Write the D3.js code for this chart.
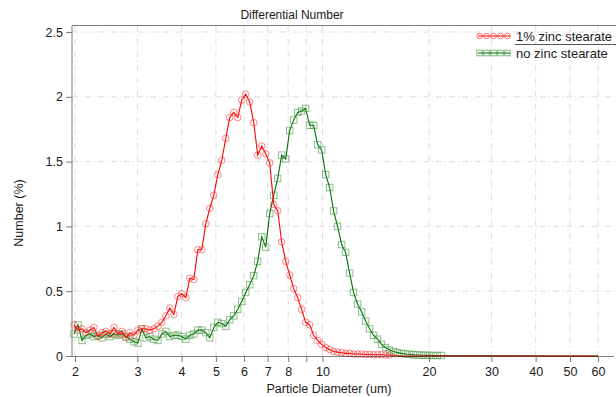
<!DOCTYPE html>
<html>
<head>
<meta charset="utf-8">
<script src="https://cdn.jsdelivr.net/npm/d3@7"></script>
<style>
  body { margin: 0; background: #fff; }
  svg text { font-family: Arial, "Liberation Sans", sans-serif; fill: #1a1a1a; }
</style>
</head>
<body>
<div id="chart"></div>
<script>
// particle diameter bins (um), shared by both samples
var diameters = [1.987, 2.039, 2.093, 2.148, 2.205, 2.263, 2.322, 2.383, 2.446, 2.510,
  2.576, 2.644, 2.714, 2.785, 2.859, 2.934, 3.011, 3.090, 3.171, 3.255,
  3.341, 3.429, 3.519, 3.611, 3.706, 3.804, 3.904, 4.007, 4.112, 4.220,
  4.331, 4.445, 4.562, 4.682, 4.806, 4.932, 5.062, 5.195, 5.332, 5.472,
  5.616, 5.764, 5.916, 6.071, 6.231, 6.395, 6.563, 6.736, 6.913, 7.095,
  7.282, 7.474, 7.670, 7.872, 8.079, 8.292, 8.510, 8.734, 8.964, 9.200,
  9.442, 9.691, 9.945, 10.21, 10.48, 10.75, 11.03, 11.33, 11.62, 11.93,
  12.24, 12.57, 12.90, 13.24, 13.58, 13.94, 14.31, 14.68, 15.07, 15.47,
  15.87, 16.29, 16.72, 17.16, 17.61, 18.07, 18.55, 19.04, 19.54, 20.05,
  20.58, 21.12, 21.68, 60];

// Number (%) - 1% zinc stearate
var zincValues = [0.24, 0.20, 0.21, 0.18, 0.20, 0.22, 0.15, 0.18, 0.19, 0.17,
  0.22, 0.17, 0.19, 0.14, 0.18, 0.16, 0.20, 0.21, 0.21, 0.20,
  0.21, 0.23, 0.26, 0.31, 0.37, 0.32, 0.46, 0.48, 0.45, 0.60,
  0.59, 0.82, 0.82, 1.02, 1.14, 1.24, 1.40, 1.51, 1.68, 1.84,
  1.88, 1.84, 1.975, 2.02, 1.96, 1.80, 1.55, 1.62, 1.56, 1.49,
  1.17, 1.12, 0.88, 0.73, 0.625, 0.52, 0.45, 0.36, 0.26, 0.24,
  0.16, 0.12, 0.09, 0.065, 0.05, 0.035, 0.03, 0.025, 0.02, 0.02,
  0.015, 0.015, 0.015, 0.012, 0.012, 0.01, 0.01, 0.01, 0.008, 0.008,
  0, 0, 0, 0, 0, 0, 0, 0, 0, 0,
  0, 0, 0, 0];

// Number (%) - no zinc stearate
var plainValues = [0.17, 0.24, 0.12, 0.16, 0.17, 0.15, 0.16, 0.14, 0.17, 0.15,
  0.17, 0.16, 0.17, 0.15, 0.13, 0.11, 0.10, 0.21, 0.14, 0.15,
  0.13, 0.12, 0.17, 0.19, 0.15, 0.16, 0.16, 0.15, 0.13, 0.16,
  0.17, 0.20, 0.20, 0.18, 0.14, 0.22, 0.26, 0.25, 0.23, 0.28,
  0.31, 0.36, 0.42, 0.49, 0.55, 0.62, 0.73, 0.92, 0.84, 1.10,
  1.24, 1.37, 1.55, 1.52, 1.74, 1.82, 1.88, 1.89, 1.91, 1.78,
  1.78, 1.63, 1.59, 1.40, 1.30, 1.12, 1.00, 0.86, 0.80, 0.64,
  0.49, 0.40, 0.34, 0.27, 0.21, 0.16, 0.13, 0.09, 0.065, 0.046,
  0.035, 0.026, 0.02, 0.016, 0.013, 0.01, 0.008, 0.006, 0.006, 0.005,
  0.004, 0.004, 0.004, 0];

var xTicks = [2, 3, 4, 5, 6, 7, 8, 9, 10, 20, 30, 40, 50, 60];
var yTicks = [0, 0.5, 1, 1.5, 2, 2.5];
var seriesNames = ["1% zinc stearate", "no zinc stearate"];

var width = 616, height = 397;
var svg = d3.select("#chart").append("svg")
    .attr("width", width)
    .attr("height", height);

var x = d3.scaleLog().domain([2, 60]).range([75, 598]);
var y = d3.scaleLinear().domain([0, 2.5]).range([356, 32]);
var frameLeft = 72, frameRight = 616, frameTop = 25.5, frameBottom = y(0);

// grid
var gridStyle = "6,3,1,3";
svg.append("g").selectAll("line.vg")
    .data(xTicks)
    .enter().append("line")
    .attr("x1", function(d){ return x(d); })
    .attr("x2", function(d){ return x(d); })
    .attr("y1", frameTop)
    .attr("y2", frameBottom)
    .attr("stroke", "#dcdcdc")
    .attr("stroke-dasharray", gridStyle);
svg.append("g").selectAll("line.hg")
    .data(yTicks.slice(1))
    .enter().append("line")
    .attr("x1", frameLeft)
    .attr("x2", frameRight)
    .attr("y1", function(d){ return y(d); })
    .attr("y2", function(d){ return y(d); })
    .attr("stroke", "#dcdcdc")
    .attr("stroke-dasharray", gridStyle);

// series
function makeSeries(values){
    return diameters.map(function(d, i){ return {d: d, v: values[i]}; });
}
var zinc = makeSeries(zincValues), plain = makeSeries(plainValues);
var line = d3.line()
    .x(function(p){ return x(p.d); })
    .y(function(p){ return y(p.v); });

// no zinc stearate (green squares)
svg.append("path")
    .datum(plain)
    .attr("d", line)
    .attr("fill", "none")
    .attr("stroke", "#007000")
    .attr("stroke-width", 1.1);
svg.append("g").selectAll("rect")
    .data(plain.filter(function(p){ return p.v > 0; }))
    .enter().append("rect")
    .attr("x", function(p){ return x(p.d) - 3.2; })
    .attr("y", function(p){ return y(p.v) - 3.2; })
    .attr("width", 6.4)
    .attr("height", 6.4)
    .attr("fill", "none")
    .attr("stroke", "#2e8b2e")
    .attr("stroke-opacity", 0.55);

// 1% zinc stearate (red circles)
svg.append("path")
    .datum(zinc)
    .attr("d", line)
    .attr("fill", "none")
    .attr("stroke", "#ff0000")
    .attr("stroke-width", 1.1);
svg.append("g").selectAll("circle")
    .data(zinc.filter(function(p){ return p.v > 0; }))
    .enter().append("circle")
    .attr("cx", function(p){ return x(p.d); })
    .attr("cy", function(p){ return y(p.v); })
    .attr("r", 3.3)
    .attr("fill", "none")
    .attr("stroke", "#ff2020")
    .attr("stroke-opacity", 0.55);

// frame
svg.append("line")
    .attr("x1", frameLeft).attr("x2", frameRight)
    .attr("y1", frameTop).attr("y2", frameTop)
    .attr("stroke", "#7a7a7a");
svg.append("line")
    .attr("x1", frameLeft).attr("x2", frameLeft)
    .attr("y1", frameTop).attr("y2", frameBottom)
    .attr("stroke", "#7a7a7a");

// axes
var xAxis = d3.axisBottom(x)
    .tickValues(xTicks)
    .tickFormat(function(d){ return d == 9 ? "" : d; })
    .tickSize(6)
    .tickSizeOuter(0);
var gx = svg.append("g")
    .attr("transform", "translate(0," + frameBottom + ")")
    .call(xAxis);
gx.select(".domain").attr("d", "M" + frameLeft + ",0.5H614")
    .attr("stroke", "#000").attr("stroke-opacity", 0.5);
gx.selectAll(".tick line").attr("stroke", "#7a7a7a");
gx.selectAll(".tick text").attr("font-size", 12.5).attr("dy", "0.9em").attr("fill", "#1a1a1a");

var yAxis = d3.axisLeft(y)
    .tickValues(yTicks)
    .tickFormat(function(d){ return d; })
    .tickSize(6)
    .tickSizeOuter(0);
var gy = svg.append("g")
    .attr("transform", "translate(" + frameLeft + ",0)")
    .call(yAxis);
gy.select(".domain").remove();
gy.selectAll(".tick line").attr("stroke", "#7a7a7a");
gy.selectAll(".tick text").attr("font-size", 12.5).attr("x", -9).attr("fill", "#1a1a1a");

// titles
svg.append("text")
    .attr("x", 292).attr("y", 19)
    .attr("text-anchor", "middle")
    .attr("font-size", 12)
    .text("Differential Number");
svg.append("text")
    .attr("x", 329).attr("y", 393)
    .attr("text-anchor", "middle")
    .attr("font-size", 12.5)
    .text("Particle Diameter (um)");
svg.append("text")
    .attr("transform", "translate(23,213) rotate(-90)")
    .attr("text-anchor", "middle")
    .attr("font-size", 12.5)
    .text("Number (%)");

// legend
var legend = svg.append("g");
var legendRows = [{name: seriesNames[0], y: 36, color: "#ff2020", line: "#ff0000", shape: "circle"},
                  {name: seriesNames[1], y: 53, color: "#2e8b2e", line: "#007000", shape: "square"}];
legendRows.forEach(function(r){
    legend.append("line")
        .attr("x1", 478).attr("x2", 510)
        .attr("y1", r.y).attr("y2", r.y)
        .attr("stroke", r.line);
    d3.range(5).forEach(function(k){
        var cx = 479.5 + k * 7;
        if(r.shape == "circle")
            legend.append("circle").attr("cx", cx).attr("cy", r.y).attr("r", 2.8)
                .attr("fill", "none").attr("stroke", r.color).attr("stroke-opacity", 0.6);
        else
            legend.append("rect").attr("x", cx - 2.8).attr("y", r.y - 2.8)
                .attr("width", 5.6).attr("height", 5.6)
                .attr("fill", "none").attr("stroke", r.color).attr("stroke-opacity", 0.6);
    });
    legend.append("text")
        .attr("x", 516).attr("y", r.y + 4.5)
        .attr("font-size", 13)
        .text(r.name);
});
legend.append("line")
    .attr("x1", 515).attr("x2", 616)
    .attr("y1", 44.5).attr("y2", 44.5)
    .attr("stroke", "#555");
</script>
</body>
</html>
